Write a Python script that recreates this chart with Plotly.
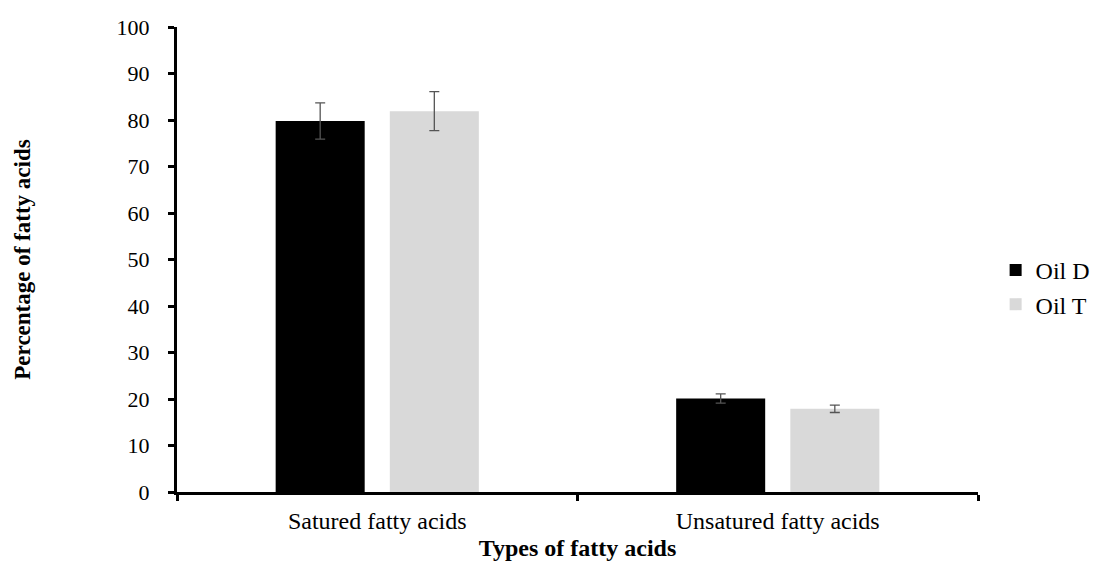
import plotly.graph_objects as go

categories = ["Satured fatty acids", "Unsatured fatty acids"]
oil_d = [79.8, 20.1]
oil_d_err = [3.9, 1.0]
oil_t = [81.9, 17.9]
oil_t_err = [4.2, 0.8]
y_ticks = [0, 10, 20, 30, 40, 50, 60, 70, 80, 90, 100]

font_family = "Liberation Serif, Times New Roman, serif"

fig = go.Figure()
fig.add_trace(go.Bar(
    name="Oil D", x=categories, y=oil_d,
    marker=dict(color="#000000", line=dict(width=0)),
    error_y=dict(type="data", array=oil_d_err, color="#555555", thickness=1.3, width=5),
))
fig.add_trace(go.Bar(
    name="Oil T", x=categories, y=oil_t,
    marker=dict(color="#d9d9d9", line=dict(width=0)),
    error_y=dict(type="data", array=oil_t_err, color="#555555", thickness=1.3, width=5),
))

fig.update_layout(
    width=1091, height=554,
    barmode="group", bargap=0.43, bargroupgap=0.22,
    plot_bgcolor="white", paper_bgcolor="white",
    margin=dict(l=169, r=121, t=19, b=70, autoexpand=False),
    font=dict(family=font_family, size=22, color="#000000"),
    showlegend=True,
    legend=dict(x=1.022, y=0.44, xanchor="left", yanchor="middle",
                font=dict(family=font_family, size=24, color="#000000"),
                itemsizing="constant", tracegroupgap=14, bgcolor="rgba(0,0,0,0)"),
    xaxis=dict(
        showline=True, linecolor="#000000", linewidth=3,
        ticks="outside", tickson="boundaries", ticklen=6, tickwidth=3, tickcolor="#000000",
        tickfont=dict(family=font_family, size=24),
        ticklabelstandoff=5,
        title=dict(text="<b>Types of fatty acids</b>", standoff=7,
                   font=dict(family=font_family, size=24)),
        showgrid=False, zeroline=False,
    ),
    yaxis=dict(
        range=[0, 100], tickvals=y_ticks,
        showline=True, linecolor="#000000", linewidth=3,
        ticks="outside", ticklen=6, tickwidth=3, tickcolor="#000000",
        tickfont=dict(family=font_family, size=22),
        ticklabelstandoff=14,
        title=dict(text="<b>Percentage of fatty acids</b>", standoff=80,
                   font=dict(family=font_family, size=23)),
        showgrid=False, zeroline=False,
    ),
)

fig.write_html("out.html")
